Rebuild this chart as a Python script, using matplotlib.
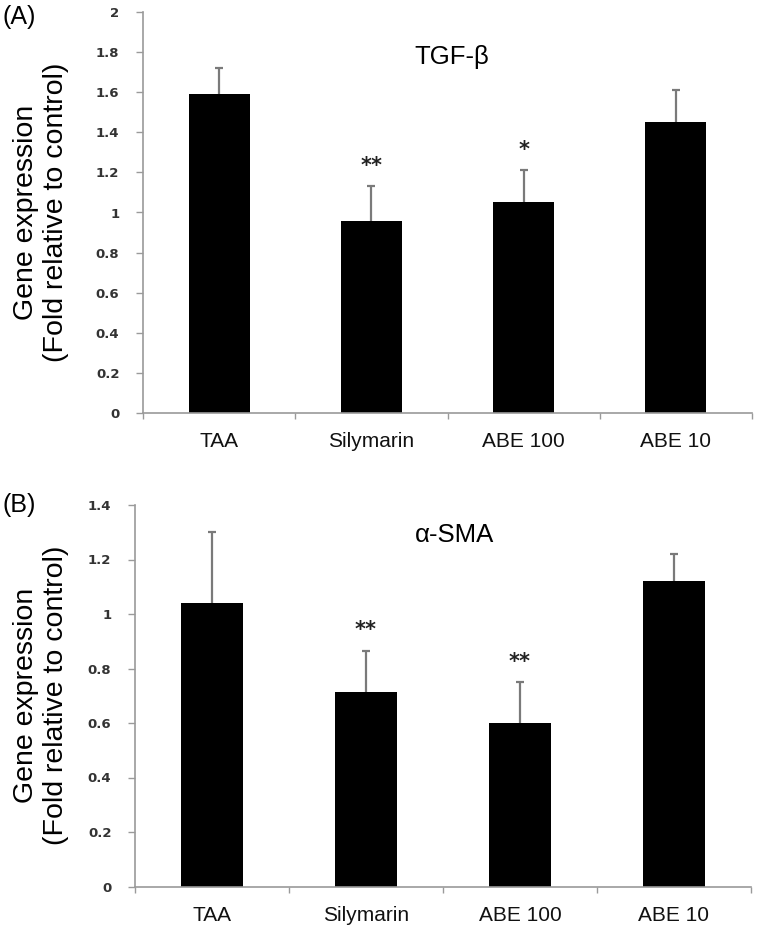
import matplotlib
matplotlib.use("Agg")
import matplotlib.pyplot as plt
import numpy as np

categories = ["TAA", "Silymarin", "ABE 100", "ABE 10"]

tgf_values = [1.59, 0.96, 1.05, 1.45]
tgf_errors = [0.13, 0.17, 0.16, 0.16]
tgf_stars = ["", "**", "*", ""]

sma_values = [1.04, 0.715, 0.60, 1.12]
sma_errors = [0.26, 0.15, 0.15, 0.10]
sma_stars = ["", "**", "**", ""]

W, H = 760, 933
fig = plt.figure(figsize=(W / 100, H / 100), dpi=100)
FONT = "Liberation Sans"
GRAY = "#9a9a9a"


def px_axes(left, right, top, bottom):
    return [left / W, 1 - bottom / H, (right - left) / W, (bottom - top) / H]


def panel(rect, values, errors, stars, ymax, ystep, title, title_xy, letter, letter_y, star_off):
    ax = fig.add_axes(rect)
    x = np.arange(len(categories))
    vals = np.array(values)
    errs = np.array(errors)
    ax.bar(x, vals, width=0.4, color="black", zorder=2)
    ax.vlines(x, vals, vals + errs, color="#7a7a7a", linewidth=1.6, zorder=3)
    ax.plot(x, vals + errs, linestyle="none", marker="_", markersize=6,
            markeredgewidth=1.6, color="#7a7a7a", zorder=3)
    for xi, v, e, s in zip(x, vals, errs, stars):
        if s:
            ax.text(xi, v + e + star_off, s, ha="center", va="center",
                    fontsize=15, fontweight="bold", family="DejaVu Sans", color="#222222")
    ticks = np.round(np.arange(0, ymax + 1e-9, ystep), 2)
    ax.set_xlim(-0.5, len(categories) - 0.5)
    ax.set_ylim(0, ymax)
    ax.set_yticks(ticks)
    ax.set_yticklabels([f"{t:g}" for t in ticks],
                       fontsize=9.5, fontweight="bold", family="DejaVu Sans", color="#333333")
    ax.set_xticks(x)
    ax.set_xticklabels(categories, fontsize=15, family=FONT, color="#111111")
    ax.tick_params(axis="x", length=0, pad=14)
    ax.set_xticks(np.arange(-0.5, len(categories), 1.0), minor=True)
    ax.tick_params(axis="x", which="minor", length=4, color=GRAY, width=1)
    ax.tick_params(axis="y", length=5, color=GRAY, width=1, pad=12)
    for sp in ["top", "right"]:
        ax.spines[sp].set_visible(False)
    for sp in ["left", "bottom"]:
        ax.spines[sp].set_color(GRAY)
        ax.spines[sp].set_linewidth(1.2)
    fig.text(title_xy[0] / W, 1 - title_xy[1] / H, title, ha="center", va="center",
             fontsize=18.5, family=FONT)
    fig.text(3 / W, 1 - letter_y / H, letter, ha="left", va="center", fontsize=18, family=FONT)
    ycenter = rect[1] + rect[3] / 2
    fig.text(41 / W, ycenter, "Gene expression\n(Fold relative to control)", rotation=90,
             ha="center", va="center", multialignment="center", fontsize=20.5,
             family=FONT, linespacing=1.2)
    return ax


panel(px_axes(143, 752, 12, 413), tgf_values, tgf_errors, tgf_stars, 2.0, 0.2,
      "TGF-β", (452, 57), "(A)", 17, 0.1)
panel(px_axes(135, 751, 505, 886.5), sma_values, sma_errors, sma_stars, 1.4, 0.2,
      "α-SMA", (455, 535), "(B)", 505, 0.075)

fig.savefig("out.png", dpi=100)
